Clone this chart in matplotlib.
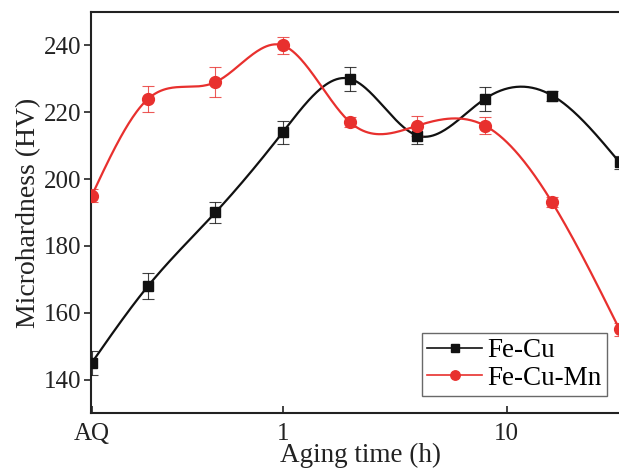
import matplotlib
matplotlib.use('Agg')
import matplotlib.pyplot as plt
import numpy as np

# -- Data: aging time (h) vs. microhardness (HV); AQ plotted at 0.14 h --
time_h = [0.14, 0.25, 0.5, 1, 2, 4, 8, 16, 32]
fecu = [145, 168, 190, 214, 230, 213, 224, 225, 205]
fecu_err = [3.5, 4, 3, 3.5, 3.5, 2.5, 3.5, 1.5, 2]
fecumn = [195, 224, 229, 240, 217, 216, 216, 193, 155]
fecumn_err = [2, 4, 4.5, 2.5, 1.5, 3, 2.5, 1.5, 2]
tick_pos = [0.14, 1, 10]
tick_labels = ['AQ', '1', '10']

BLACK = '#111111'
RED = '#e8302e'


def natural_spline(x, y, n=400):
    # natural cubic spline through the points (used only to draw the smooth line)
    x = np.asarray(x, float)
    y = np.asarray(y, float)
    k = len(x)
    h = np.diff(x)
    A = np.zeros((k, k))
    b = np.zeros(k)
    A[0, 0] = A[-1, -1] = 1
    for i in range(1, k - 1):
        A[i, i - 1] = h[i - 1]
        A[i, i] = 2 * (h[i - 1] + h[i])
        A[i, i + 1] = h[i]
        b[i] = 6 * ((y[i + 1] - y[i]) / h[i] - (y[i] - y[i - 1]) / h[i - 1])
    m = np.linalg.solve(A, b)
    xs = np.linspace(x[0], x[-1], n)
    idx = np.clip(np.searchsorted(x, xs) - 1, 0, k - 2)
    x0, x1 = x[idx], x[idx + 1]
    hh = x1 - x0
    t0, t1 = x1 - xs, xs - x0
    ys = (m[idx] * t0 ** 3 / (6 * hh) + m[idx + 1] * t1 ** 3 / (6 * hh)
          + (y[idx] / hh - m[idx] * hh / 6) * t0
          + (y[idx + 1] / hh - m[idx + 1] * hh / 6) * t1)
    return xs, ys


plt.rcParams['font.family'] = ['Liberation Serif', 'DejaVu Serif']

fig = plt.figure(figsize=(6.19, 4.71), dpi=100)
ax = fig.add_axes([91 / 619, 58 / 471, 540 / 619, 401 / 471])

logt = np.log10(time_h)
for vals, errs, col, mk, ms, lab in [
        (fecu, fecu_err, BLACK, 's', 7, 'Fe-Cu'),
        (fecumn, fecumn_err, RED, 'o', 8.5, 'Fe-Cu-Mn')]:
    xs, ys = natural_spline(logt, vals)
    ax.plot(10 ** xs, ys, color=col, linewidth=1.6, zorder=2)
    ax.errorbar(time_h, vals, yerr=errs, fmt='none', ecolor=col,
                elinewidth=0.8, capsize=4, capthick=0.8, alpha=0.8, zorder=3)
    ax.plot(time_h, vals, linestyle='none', marker=mk, markersize=ms,
            color=col, zorder=4)
    ax.plot([], [], color=col, linewidth=1.2, marker=mk, markersize=ms * 0.8,
            label=lab)

ax.set_xscale('log')
ax.set_xlim(0.139, 36)
ax.set_ylim(130, 250)
ax.set_xticks(tick_pos)
ax.set_xticklabels(tick_labels)
ax.xaxis.set_minor_locator(matplotlib.ticker.NullLocator())
ax.set_yticks([140, 160, 180, 200, 220, 240])

ax.tick_params(axis='x', direction='in', length=5, width=1.2,
               labelsize=18, pad=7, colors='#222222')
ax.tick_params(axis='y', direction='out', length=5, width=1.2,
               labelsize=18, pad=2, colors='#222222')

for s in ['left', 'bottom', 'top']:
    ax.spines[s].set_linewidth(1.5)
    ax.spines[s].set_color('#222222')
ax.spines['right'].set_visible(False)

ax.set_xlabel('Aging time (h)', fontsize=19.5, labelpad=-1, color='#222222')
ax.set_ylabel('Microhardness (HV)', fontsize=20, labelpad=2, color='#222222')

leg = ax.legend(loc='lower right', bbox_to_anchor=(0.955, 0.042),
                fontsize=19.5, frameon=True, fancybox=False,
                edgecolor='#444444', handlelength=2.0, handletextpad=0.2,
                borderpad=0.2, labelspacing=0.1, borderaxespad=0)
leg.get_frame().set_linewidth(1.0)

fig.savefig('out.png', dpi=100)
